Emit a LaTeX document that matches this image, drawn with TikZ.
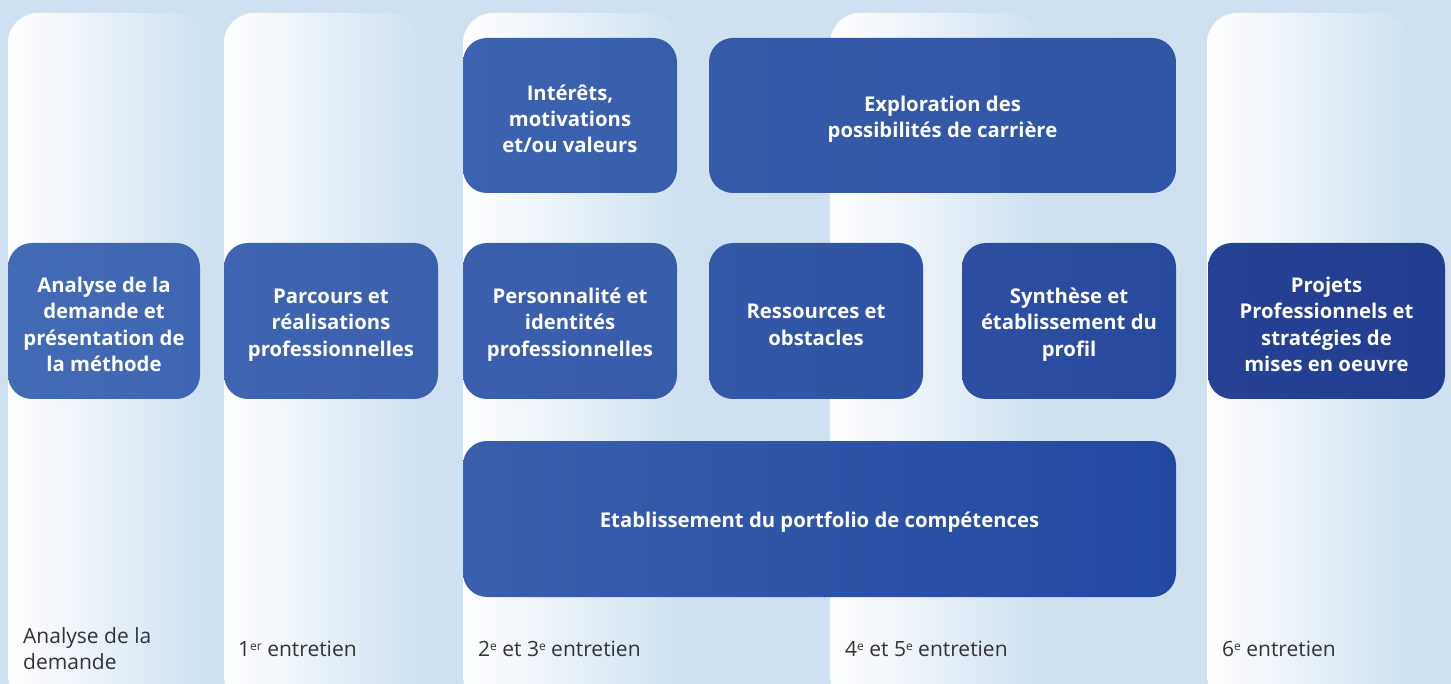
\documentclass[tikz,border=0pt]{standalone}
\usepackage{fontspec}
\setmainfont{Open Sans}
\definecolor{bg}{HTML}{CFE1F0}
\definecolor{labeltext}{HTML}{333333}
\newcommand{\supx}[1]{\raisebox{6.5pt}{\fontsize{12}{12}\selectfont #1}}
\begin{document}
\begin{tikzpicture}[x=1pt,y=-1pt,
  panel/.style={left color=white,right color=bg,rounded corners=30pt},
  box/.style={rectangle,rounded corners=24pt,inner sep=0pt,text=white,align=center,
    font=\fontsize{20.3}{26.3}\selectfont\bfseries},
  steplabel/.style={anchor=west,inner sep=0pt,text=labeltext,align=left,
    font=\fontsize{21}{26}\selectfont}]
\useasboundingbox (0,0) rectangle (1451,684);
\fill[bg] (0,0) rectangle (1451,684);
\clip (0,0) rectangle (1451,684);
% columns
\shade[panel] (8,13) rectangle (205,705);
\shade[panel] (224,13) rectangle (420,705);
\shade[panel] (463,13) rectangle (680,705);
\shade[panel] (830,13) rectangle (1040,705);
\shade[panel] (1207,13) rectangle (1410,705);
% boxes
\node[box,minimum width=192pt,minimum height=156pt,left color={rgb,255:red,66;green,107;blue,182},right color={rgb,255:red,63;green,102;blue,178}] (analyse) at (104,321) {\\[-4pt]Analyse de la\\demande et\\présentation de\\la méthode};
\node[box,minimum width=214pt,minimum height=156pt,left color={rgb,255:red,62;green,101;blue,177},right color={rgb,255:red,59;green,97;blue,174}] (parcours) at (331,321) {\\[-4pt]Parcours et\\réalisations\\professionnelles};
\node[box,minimum width=214pt,minimum height=155pt,left color={rgb,255:red,59;green,99;blue,176},right color={rgb,255:red,56;green,95;blue,172}] (interets) at (570,115.5) {\\[-4pt]Intérêts,\\motivations\\et/ou valeurs};
\node[box,minimum width=214pt,minimum height=156pt,left color={rgb,255:red,58;green,96;blue,173},right color={rgb,255:red,55;green,92;blue,170}] (personnalite) at (570,321) {\\[-4pt]Personnalité et\\identités\\professionnelles};
\node[box,minimum width=467pt,minimum height=155pt,left color={rgb,255:red,52;green,90;blue,168},right color={rgb,255:red,48;green,86;blue,166}] (exploration) at (942.5,115.5) {\\[-4pt]Exploration des\\possibilités de carrière};
\node[box,minimum width=214pt,minimum height=156pt,left color={rgb,255:red,50;green,88;blue,167},right color={rgb,255:red,46;green,83;blue,164}] (ressources) at (816,321) {\\[-4pt]Ressources et\\obstacles};
\node[box,minimum width=214pt,minimum height=156pt,left color={rgb,255:red,44;green,79;blue,161},right color={rgb,255:red,40;green,74;blue,157}] (synthese) at (1069,321) {\\[-4pt]Synthèse et\\établissement du\\profil};
\node[box,minimum width=237pt,minimum height=156pt,left color={rgb,255:red,36;green,65;blue,148},right color={rgb,255:red,34;green,62;blue,145}] (projets) at (1326.5,321) {\\[-4pt]Projets\\Professionnels et\\stratégies de\\mises en oeuvre};
\node[box,minimum width=713pt,minimum height=156pt,left color={rgb,255:red,58;green,95;blue,172},right color={rgb,255:red,34;green,73;blue,160}] (portfolio) at (819.5,519) {\\[-4pt]Etablissement du portfolio de compétences};
% step labels
\node[steplabel] (l1) at (23,649) {Analyse de la\\demande};
\node[steplabel] (l2) at (238,649) {1\supx{er} entretien};
\node[steplabel] (l3) at (478,649) {2\supx{e} et 3\supx{e} entretien};
\node[steplabel] (l4) at (845,649) {4\supx{e} et 5\supx{e} entretien};
\node[steplabel] (l5) at (1222,649) {6\supx{e} entretien};
\end{tikzpicture}
\end{document}
